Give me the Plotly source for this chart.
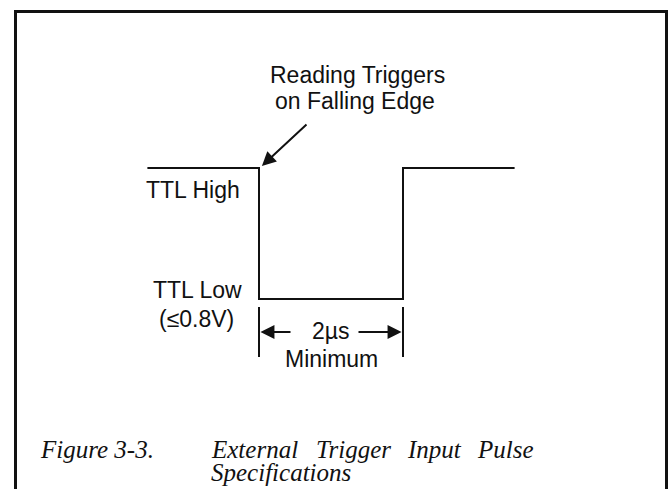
import plotly.graph_objects as go

# Pulse waveform data (time in microseconds, logic level 1=TTL High, 0=TTL Low)
time_us = [-1.55, 0.0, 0.0, 2.0, 2.0, 3.55]
level = [1, 1, 0, 0, 1, 1]
edge_times = [0.0, 2.0]          # falling / rising edge
min_width_label = "2µs"

W, H = 671, 489
# mapping used only for placing layout elements (pixels -> data units)
X0, SX = 259.0, 72.0    # t=0 at pixel 259, 72 px per µs
Y0, SY = 299.0, 131.0   # level 0 at pixel 299, 131 px per level
def tx(px):
    return (px - X0) / SX
def ly(py):
    return (Y0 - py) / SY

SANS = "Liberation Sans, Arial, sans-serif"
SERIF = "Liberation Serif, Times New Roman, serif"
FS = 23
CFS = 25
INK = "#111111"

fig = go.Figure()
fig.add_trace(go.Scatter(x=time_us, y=level, mode="lines",
                         line=dict(color=INK, width=2), hoverinfo="skip",
                         showlegend=False))

ann = []
def label(text, px, py, size=FS, family=SANS, xanchor="center"):
    ann.append(dict(x=tx(px), y=ly(py), xref="x", yref="y", text=text,
                    showarrow=False, xanchor=xanchor, yanchor="middle",
                    font=dict(family=family, size=size, color=INK)))

label("Reading Triggers", 357, 75)
label("on Falling Edge", 355, 101)
label("TTL High", 193, 190)
label("TTL Low", 197, 290)
label("(≤0.8V)", 196, 319)
label(min_width_label, 331, 331)
label("Minimum", 331, 359)

# caption
label("<i>Figure 3-3.</i>", 38, 449, CFS, SERIF, "left")
for word, px in [("External", 209), ("Trigger", 314), ("Input", 405), ("Pulse", 475)]:
    label("<i>%s</i>" % word, px, 449, CFS, SERIF, "left")
label("<i>Specifications</i>", 209, 472, CFS, SERIF, "left")

# pointer arrow to falling edge
ann.append(dict(x=edge_times[0] + 0.04, y=ly(166), ax=tx(308), ay=ly(123),
                xref="x", yref="y", axref="x", ayref="y", text="",
                showarrow=True, arrowhead=2, arrowsize=1.4, arrowwidth=2,
                arrowcolor=INK))
# dimension arrows
ydim = ly(332)
ann.append(dict(x=edge_times[0] + 0.02, y=ydim, ax=tx(292), ay=ydim,
                xref="x", yref="y", axref="x", ayref="y", text="",
                showarrow=True, arrowhead=2, arrowsize=1.4, arrowwidth=2,
                arrowcolor=INK))
ann.append(dict(x=edge_times[1] - 0.02, y=ydim, ax=tx(357), ay=ydim,
                xref="x", yref="y", axref="x", ayref="y", text="",
                showarrow=True, arrowhead=2, arrowsize=1.4, arrowwidth=2,
                arrowcolor=INK))

shapes = []
for t in edge_times:
    shapes.append(dict(type="line", xref="x", yref="y", x0=t, x1=t,
                       y0=ly(307), y1=ly(357), line=dict(color=INK, width=2)))
# frame (left, top, right)
fx0, fx1, fy0 = 15.5 / W, 666.5 / W, 1 - 11.5 / H
shapes.append(dict(type="path", xref="paper", yref="paper",
                   path="M %f,0 L %f,%f L %f,%f L %f,0" % (fx0, fx0, fy0, fx1, fy0, fx1),
                   line=dict(color=INK, width=3)))

fig.update_layout(
    width=W, height=H, autosize=False,
    margin=dict(l=0, r=0, t=0, b=0),
    paper_bgcolor="white", plot_bgcolor="white",
    xaxis=dict(range=[tx(0), tx(W)], visible=False, fixedrange=True),
    yaxis=dict(range=[ly(H), ly(0)], visible=False, fixedrange=True),
    annotations=ann, shapes=shapes, showlegend=False,
)
fig.write_html("out.html", config={"displayModeBar": False},
               post_script="document.body.style.margin='0';document.body.style.overflow='hidden';")
